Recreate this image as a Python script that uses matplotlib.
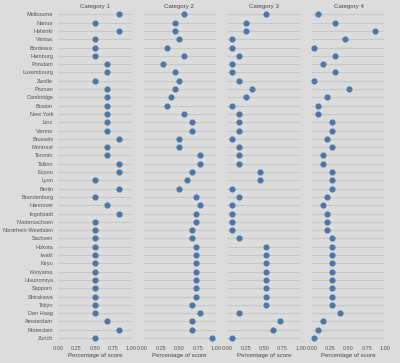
import matplotlib
matplotlib.use("Agg")
import matplotlib.pyplot as plt

plt.rcParams['font.family'] = ['Liberation Sans', 'DejaVu Sans']

cities = ['Melbourne', 'Namur', 'Helsinki', 'Vantaa', 'Bordeaux', 'Hamburg', 'Potsdam',
          'Luxembourg', 'Zwolle', 'Poznan', 'Cambridge', 'Boston', 'New York', 'Linz',
          'Vienna', 'Brussels', 'Montreal', 'Toronto', 'Tallinn', 'Espoo', 'Lyon', 'Berlin',
          'Brandenburg', 'Hannover', 'Ingolstadt', 'Niedersachsen', 'Nordrhein-Westfalen',
          'Sachsen', 'Hokota', 'Iwaki', 'Kiryu', 'Koriyama', 'Utsunomiya', 'Sapporo',
          'Shirakawa', 'Tokyo', 'Den Haag', 'Amsterdam', 'Rotterdam', 'Zurich']

categories = ['Category 1', 'Category 2', 'Category 3', 'Category 4']

cat1 = [0.83, 0.5, 0.83, 0.5, 0.5, 0.5, 0.67, 0.67, 0.5, 0.67, 0.67, 0.67, 0.67,
        0.67, 0.67, 0.83, 0.67, 0.67, 0.83, 0.83, 0.5, 0.83, 0.5, 0.67, 0.83, 0.5, 0.5, 0.5,
        0.5, 0.5, 0.5, 0.5, 0.5, 0.5, 0.5, 0.5, 0.5, 0.67, 0.83, 0.5]
cat2 = [0.56, 0.44, 0.44, 0.5, 0.33, 0.56, 0.28, 0.44, 0.5, 0.44, 0.39, 0.33, 0.56,
        0.67, 0.67, 0.5, 0.5, 0.78, 0.78, 0.67, 0.61, 0.5, 0.72, 0.78, 0.72, 0.72, 0.67, 0.67,
        0.72, 0.72, 0.72, 0.72, 0.72, 0.72, 0.72, 0.67, 0.78, 0.67, 0.67, 0.94]
cat3 = [0.53, 0.25, 0.25, 0.06, 0.06, 0.16, 0.06, 0.06, 0.16, 0.34, 0.25, 0.06, 0.16,
        0.16, 0.16, 0.06, 0.16, 0.16, 0.16, 0.44, 0.44, 0.06, 0.16, 0.06, 0.06, 0.06, 0.06, 0.16,
        0.53, 0.53, 0.53, 0.53, 0.53, 0.53, 0.53, 0.53, 0.16, 0.72, 0.62, 0.06]
cat4 = [0.09, 0.32, 0.86, 0.45, 0.03, 0.32, 0.15, 0.32, 0.03, 0.5, 0.21, 0.09, 0.09,
        0.27, 0.27, 0.21, 0.27, 0.15, 0.15, 0.27, 0.27, 0.27, 0.21, 0.15, 0.21, 0.21, 0.21, 0.27,
        0.27, 0.27, 0.27, 0.27, 0.27, 0.27, 0.27, 0.27, 0.39, 0.15, 0.09, 0.03]
series = [cat1, cat2, cat3, cat4]

xticks = [0, 0.25, 0.5, 0.75, 1.0]
xticklabels = ['0.00', '0.25', '0.50', '0.75', '1.00']

bg = '#dcdcdc'
W, H = 400, 363
fig = plt.figure(figsize=(W / 100, H / 100), dpi=100, facecolor=bg)

top = 10.2
bottom = 342.2
rows = list(range(len(cities)))

for i, (name, vals) in enumerate(zip(categories, series)):
    left = 58 + 84.6 * i
    ax = fig.add_axes([left / W, 1 - bottom / H, 73.5 / W, (bottom - top) / H])
    ax.set_facecolor(bg)
    ax.plot(vals, rows, 'o', color='#4c78a8', markersize=3.4, zorder=3, clip_on=False)
    ax.set_xlim(0, 1)
    ax.set_ylim(len(cities) - 0.5, -0.5)
    ax.set_yticks(rows)
    if i == 0:
        ax.set_yticklabels(cities, fontsize=4, color='#555555')
    else:
        ax.set_yticklabels([])
    ax.set_xticks(xticks)
    ax.set_xticklabels(xticklabels, fontsize=4, color='#555555')
    ax.tick_params(length=0, pad=3.5)
    ax.tick_params(axis='x', pad=2.5)
    ax.grid(axis='y', color='#c8c8c8', linewidth=0.8)
    ax.set_axisbelow(True)
    for s in ax.spines.values():
        s.set_visible(False)
    ax.set_title(name, fontsize=4.4, color='#444444', pad=1.8)
    ax.set_xlabel('Percentage of score', fontsize=4.4, color='#444444', labelpad=1.5)

fig.savefig('out.png', dpi=100, facecolor=bg)
